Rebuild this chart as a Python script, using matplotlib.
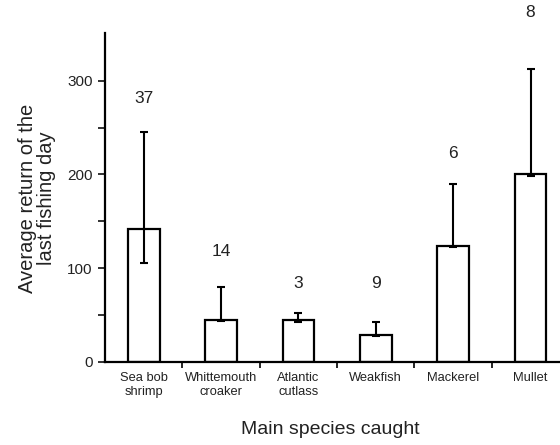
import matplotlib
matplotlib.use("Agg")
import matplotlib.pyplot as plt
import numpy as np

species = ["Sea bob\nshrimp", "Whittemouth\ncroaker", "Atlantic\ncutlass",
           "Weakfish", "Mackerel", "Mullet"]
means = [142, 45, 45, 29, 124, 200]
err_low = [37, 2, 3, 1.5, 2, 2]
err_high = [103, 35, 7, 13, 66, 113]
n_obs = ["37", "14", "3", "9", "6", "8"]
n_pos = [281, 118, 84, 84, 222, 373]

plt.rcParams['font.family'] = ['Liberation Sans', 'DejaVu Sans']

fig = plt.figure(figsize=(5.6, 4.45), dpi=100)
ax = fig.add_axes([0.1875, 0.187, 0.829, 0.739])

x = np.arange(len(species))
ax.bar(x, means, width=0.41, color="white", edgecolor="black", linewidth=1.6, zorder=2)
ax.errorbar(x, means, yerr=[err_low, err_high], fmt="none", ecolor="black",
            elinewidth=1.5, capsize=3, capthick=1.5, zorder=3)

# sample sizes above the bars
for xi, lab, yp in zip(x, n_obs, n_pos):
    ax.text(xi, yp, lab, ha="center", va="center", fontsize=12.5,
            color="#222222", clip_on=False)

ax.set_xlim(-0.5, 5.5)
ax.set_ylim(0, 351)
ax.set_yticks([0, 100, 200, 300])
ax.set_yticks([50, 150, 250], minor=True)
ax.set_xticks(x)
ax.set_xticklabels(species, fontsize=9.3, color="#222222", linespacing=1.3)
ax.set_xticks(np.arange(0.5, 5, 1), minor=True)
ax.tick_params(axis="x", which="major", length=0, pad=7)
ax.tick_params(axis="x", which="minor", length=4, width=1.2, direction="out")
ax.tick_params(axis="y", which="both", length=5, width=1.3, direction="out",
               labelsize=11, colors="#222222", pad=4)

for side in ["top", "right"]:
    ax.spines[side].set_visible(False)
for side in ["left", "bottom"]:
    ax.spines[side].set_linewidth(1.6)

fig.text(0.066, 0.555, "Average return of the\nlast fishing day", fontsize=14.5,
         color="#222222", linespacing=0.98, rotation=90,
         ha="center", va="center", multialignment="center")
fig.text(0.59, 0.035, "Main species caught", ha="center", va="center",
         fontsize=14, color="#222222")

fig.savefig("out.png", dpi=100)
